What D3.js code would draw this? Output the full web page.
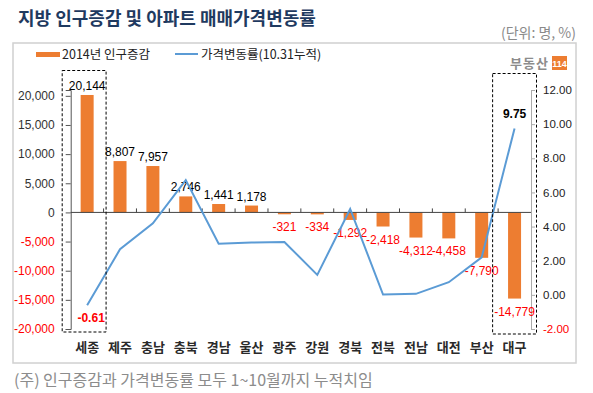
<!DOCTYPE html>
<html>
<head>
<meta charset="utf-8">
<script src="https://cdn.jsdelivr.net/npm/d3@7"></script>
<style>
  body { margin: 0; background: #fff; }
  svg { display: block; font-family: "Liberation Sans", Arial, "Noto Sans CJK KR", sans-serif; }
</style>
</head>
<body>
<svg id="chart" width="593" height="393"></svg>
<script>
// data
let regions = ["세종", "제주", "충남", "충북", "경남", "울산", "광주", "강원", "경북", "전북", "전남", "대전", "부산", "대구"];
let popChange = [20144, 8807, 7957, 2746, 1441, 1178, -321, -334, -1292, -2418, -4312, -4458, -7790, -14779];
let priceChange = [-0.61, 2.67, 4.19, 6.72, 3.0, 3.06, 3.1, 1.17, 5.03, 0.02, 0.06, 0.74, 2.2, 9.75];
let leftTicks = [-20000, -15000, -10000, -5000, 0, 5000, 10000, 15000, 20000];
let rightTicks = [-2, 0, 2, 4, 6, 8, 10, 12];
let boxedRegions = ["세종", "대구"];
let shownPriceLabels = {"세종": true, "대구": true};

var drawChart = function() {
  let svg = d3.select("#chart");
  let kr = "'Noto Sans CJK KR', sans-serif";
  let orange = "#ed7d31";
  let blue = "#5b9bd5";

  // plain hyphen minus like the original
  let locale = d3.formatLocale({decimal: ".", thousands: ",", grouping: [3], currency: ["", ""], minus: "-"});
  let fmt = locale.format(",");
  let fmt2 = locale.format(".2f");

  // title + unit
  svg.append("text")
    .attr("x", 18).attr("y", 25)
    .style("font-family", kr)
    .style("font-size", "18px")
    .style("font-weight", "bold")
    .attr("fill", "#1f3a60")
    .text("지방 인구증감 및 아파트 매매가격변동률");

  svg.append("text")
    .attr("x", 576).attr("y", 38)
    .attr("text-anchor", "end")
    .style("font-family", kr)
    .style("font-size", "14px")
    .attr("fill", "#8a8a8a")
    .text("(단위: 명, %)");

  // outer frame
  svg.append("rect")
    .attr("x", 13).attr("y", 43)
    .attr("width", 563).attr("height", 320)
    .attr("fill", "none")
    .attr("stroke", "#d0d0d0")
    .attr("stroke-width", 1.5);

  let plotLeft = 70.7, plotRight = 531, plotTop = 90, plotBottom = 329;

  let xScale = d3.scaleBand()
    .domain(regions)
    .range([plotLeft, plotRight])
    .padding(0);

  let popScale = d3.scaleLinear()
    .domain([-20000, 21000])
    .range([plotBottom, plotTop]);

  let priceScale = d3.scaleLinear()
    .domain([-2, 12])
    .range([plotBottom, plotTop]);

  let barWidth = 13;

  // bars
  svg.append("g").selectAll("rect")
    .data(popChange)
    .enter().append("rect")
    .attr("x", function(d, i) { return xScale(regions[i]) + xScale.bandwidth() / 2 - barWidth / 2; })
    .attr("y", function(d) { return popScale(Math.max(d, 0)); })
    .attr("width", barWidth)
    .attr("height", function(d) { return Math.abs(popScale(d) - popScale(0)); })
    .attr("fill", orange);

  // left axis
  let yAxis = d3.axisLeft(popScale)
    .tickValues(leftTicks)
    .tickSize(5)
    .tickPadding(11)
    .tickFormat(fmt);
  let yGroup = svg.append("g")
    .attr("transform", "translate(" + plotLeft + ",0)")
    .call(yAxis);
  yGroup.select(".domain").attr("stroke", "#555");
  yGroup.selectAll(".tick line").attr("stroke", "#555");
  yGroup.selectAll(".tick text")
    .style("font-size", "12px")
    .attr("fill", function(d) { return d < 0 ? "#ff0000" : "#333"; });

  // right axis
  let y2Axis = d3.axisRight(priceScale)
    .tickValues(rightTicks)
    .tickSize(4)
    .tickPadding(8)
    .tickFormat(fmt2);
  let y2Group = svg.append("g")
    .attr("transform", "translate(" + plotRight + ",0)")
    .call(y2Axis);
  y2Group.select(".domain").attr("stroke", "#aaa");
  y2Group.selectAll(".tick line").attr("stroke", "#aaa");
  y2Group.selectAll(".tick text")
    .style("font-size", "11.5px")
    .attr("fill", function(d) { return d < 0 ? "#ff0000" : "#222"; });

  // category axis on the zero line
  let zeroY = popScale(0);
  svg.append("line")
    .attr("x1", plotLeft).attr("x2", plotRight)
    .attr("y1", zeroY).attr("y2", zeroY)
    .attr("stroke", "#444");
  svg.append("g").selectAll("line")
    .data(regions.slice(1))
    .enter().append("line")
    .attr("x1", function(d) { return xScale(d); })
    .attr("x2", function(d) { return xScale(d); })
    .attr("y1", zeroY - 4).attr("y2", zeroY)
    .attr("stroke", "#444");

  svg.append("g").selectAll("text")
    .data(regions)
    .enter().append("text")
    .attr("x", function(d) { return xScale(d) + xScale.bandwidth() / 2; })
    .attr("y", 352)
    .attr("text-anchor", "middle")
    .style("font-family", kr)
    .style("font-size", "13px")
    .style("font-weight", "bold")
    .attr("fill", "#2a2a2a")
    .text(function(d) { return d; });

  // bar value labels
  svg.append("g").selectAll("text")
    .data(popChange)
    .enter().append("text")
    .attr("x", function(d, i) { return xScale(regions[i]) + xScale.bandwidth() / 2; })
    .attr("y", function(d) { return d >= 0 ? popScale(d) - 5 : popScale(d) + 17; })
    .attr("text-anchor", "middle")
    .style("font-size", "12px")
    .attr("fill", function(d) { return d < 0 ? "#ff0000" : "#000"; })
    .text(function(d) { return fmt(d); });

  // price line
  let line = d3.line()
    .x(function(d, i) { return xScale(regions[i]) + xScale.bandwidth() / 2; })
    .y(function(d) { return priceScale(d); });
  svg.append("path")
    .datum(priceChange)
    .attr("d", line)
    .attr("fill", "none")
    .attr("stroke", blue)
    .attr("stroke-width", 2);

  // highlighted price labels
  svg.append("g").selectAll("text")
    .data(priceChange.filter(function(d, i) { return shownPriceLabels[regions[i]]; }))
    .enter().append("text")
    .attr("x", function(d) {
      let i = priceChange.indexOf(d);
      return xScale(regions[i]) + xScale.bandwidth() / 2 + (d < 0 ? 4 : 0);
    })
    .attr("y", function(d) { return d < 0 ? priceScale(d) + 17 : priceScale(d) - 10; })
    .attr("text-anchor", "middle")
    .style("font-size", "12px")
    .style("font-weight", "bold")
    .attr("fill", function(d) { return d < 0 ? "#ff0000" : "#000"; })
    .text(function(d) { return fmt2(d); });

  // dashed boxes around the extremes
  svg.append("g").selectAll("rect")
    .data(boxedRegions)
    .enter().append("rect")
    .attr("x", function(d, i) { return xScale(d) - (i == 0 ? 8.5 : 5.5); })
    .attr("y", function(d, i) { return i == 0 ? 70.5 : 73.5; })
    .attr("width", function(d) { return xScale.bandwidth() + 11; })
    .attr("height", function(d, i) { return i == 0 ? 261.5 : 260.5; })
    .attr("fill", "none")
    .attr("stroke", "#000")
    .attr("stroke-dasharray", "3,2");

  // legend
  let legend = svg.append("g");
  legend.append("rect")
    .attr("x", 36).attr("y", 52)
    .attr("width", 24).attr("height", 5)
    .attr("fill", orange);
  legend.append("text")
    .attr("x", 62).attr("y", 59)
    .style("font-family", kr)
    .style("font-size", "12.5px")
    .attr("fill", "#222")
    .text("2014년 인구증감");
  legend.append("line")
    .attr("x1", 175).attr("x2", 198)
    .attr("y1", 54).attr("y2", 54)
    .attr("stroke", blue)
    .attr("stroke-width", 2);
  legend.append("text")
    .attr("x", 201).attr("y", 59)
    .style("font-family", kr)
    .style("font-size", "12.5px")
    .attr("fill", "#222")
    .text("가격변동률(10.31누적)");

  // logo
  svg.append("text")
    .attr("x", 549).attr("y", 68)
    .attr("text-anchor", "end")
    .style("font-family", kr)
    .style("font-size", "13px")
    .style("font-weight", "bold")
    .style("letter-spacing", "1px")
    .attr("fill", "#8c8c8c")
    .text("부동산");
  svg.append("rect")
    .attr("x", 552).attr("y", 56)
    .attr("width", 15).attr("height", 14)
    .attr("fill", orange);
  svg.append("text")
    .attr("x", 559.5).attr("y", 67)
    .attr("text-anchor", "middle")
    .style("font-size", "9px")
    .style("font-weight", "bold")
    .attr("fill", "#fff")
    .text("114");

  // footnote
  svg.append("text")
    .attr("x", 14).attr("y", 386)
    .style("font-family", kr)
    .style("font-size", "16px")
    .attr("fill", "#8c8c8c")
    .text("(주) 인구증감과 가격변동률 모두 1~10월까지 누적치임");
}

drawChart();
</script>
</body>
</html>
